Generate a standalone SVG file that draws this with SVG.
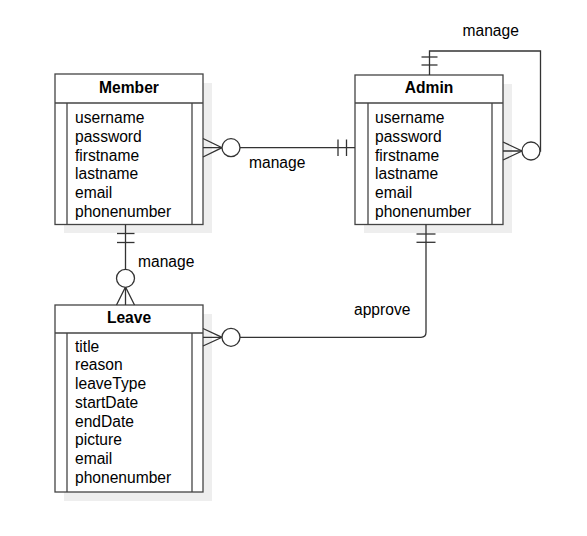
<svg xmlns="http://www.w3.org/2000/svg" width="587" height="536" viewBox="0 0 587 536">
<style>
.shadow{fill:#eeeeee;stroke:none}
.box{fill:#ffffff;stroke:#444444;stroke-width:1.3}
.ln{fill:none;stroke:#444444;stroke-width:1.3}
.edge{fill:none;stroke:#333333;stroke-width:1.3}
.circ{fill:#ffffff;stroke:#333333;stroke-width:1.3}
.hdr{font-family:"Liberation Sans",Arial,sans-serif;font-size:15.6px;font-weight:bold;fill:#000;text-anchor:middle}
.attr{font-family:"Liberation Sans",Arial,sans-serif;font-size:15.6px;fill:#000}
.lbl{font-family:"Liberation Sans",Arial,sans-serif;font-size:15.6px;fill:#000}
</style>
<rect width="587" height="536" fill="#ffffff"/>

<g id="Member">
<rect class="shadow" x="64" y="83" width="148" height="150"/>
<rect class="box" x="55" y="74" width="148" height="150.5"/>
<line class="ln" x1="55" y1="103" x2="203" y2="103"/>
<line class="ln" x1="67" y1="103" x2="67" y2="224.5"/>
<line class="ln" x1="192" y1="103" x2="192" y2="224.5"/>
<text class="hdr" x="129" y="92.5">Member</text>
<text class="attr" x="75" y="123.3">username</text>
<text class="attr" x="75" y="142">password</text>
<text class="attr" x="75" y="160.7">firstname</text>
<text class="attr" x="75" y="179.4">lastname</text>
<text class="attr" x="75" y="198.1">email</text>
<text class="attr" x="75" y="216.8">phonenumber</text>
</g>

<g id="Admin">
<rect class="shadow" x="364" y="84" width="148" height="149"/>
<rect class="box" x="355" y="75" width="148" height="149.5"/>
<line class="ln" x1="355" y1="103" x2="503" y2="103"/>
<line class="ln" x1="368" y1="103" x2="368" y2="224.5"/>
<line class="ln" x1="492" y1="103" x2="492" y2="224.5"/>
<text class="hdr" x="429" y="92.7">Admin</text>
<text class="attr" x="375" y="123.3">username</text>
<text class="attr" x="375" y="142">password</text>
<text class="attr" x="375" y="160.7">firstname</text>
<text class="attr" x="375" y="179.4">lastname</text>
<text class="attr" x="375" y="198.1">email</text>
<text class="attr" x="375" y="216.8">phonenumber</text>
</g>

<g id="Leave">
<rect class="shadow" x="64" y="314" width="148" height="187"/>
<rect class="box" x="55" y="305" width="148" height="187"/>
<line class="ln" x1="55" y1="333" x2="203" y2="333"/>
<line class="ln" x1="67" y1="333" x2="67" y2="492"/>
<line class="ln" x1="192" y1="333" x2="192" y2="492"/>
<text class="hdr" x="129" y="322.5">Leave</text>
<text class="attr" x="75" y="351.7">title</text>
<text class="attr" x="75" y="370.4">reason</text>
<text class="attr" x="75" y="389.1">leaveType</text>
<text class="attr" x="75" y="407.8">startDate</text>
<text class="attr" x="75" y="426.5">endDate</text>
<text class="attr" x="75" y="445.2">picture</text>
<text class="attr" x="75" y="463.9">email</text>
<text class="attr" x="75" y="482.6">phonenumber</text>
</g>

<g id="connectors">
<!-- Member - Admin manage -->
<g id="edge-member-admin">
<line class="edge" x1="203" y1="147.7" x2="355" y2="147.7"/>
<path class="edge" d="M203,138.5 L222,147.7 L203,157"/>
<circle class="circ" cx="231" cy="147.7" r="9"/>
<line class="edge" x1="338" y1="139.5" x2="338" y2="156"/>
<line class="edge" x1="346.5" y1="139.5" x2="346.5" y2="156"/>
<text class="lbl" x="249" y="167.5">manage</text>
</g>
<!-- Admin self manage -->
<g id="edge-admin-self">
<path class="edge" d="M429.5,75 L429.5,51 L540.5,51 L540.5,151 L503,151"/>
<path class="edge" d="M503,142 L522,151 L503,160"/>
<circle class="circ" cx="531" cy="151" r="9"/>
<line class="edge" x1="421.5" y1="57" x2="437.5" y2="57"/>
<line class="edge" x1="421.5" y1="65" x2="437.5" y2="65"/>
<text class="lbl" x="462.5" y="35.5">manage</text>
</g>
<!-- Member - Leave manage -->
<g id="edge-member-leave">
<line class="edge" x1="125.5" y1="224.5" x2="125.5" y2="305"/>
<line class="edge" x1="117" y1="233.5" x2="134.5" y2="233.5"/>
<line class="edge" x1="117" y1="242.5" x2="134.5" y2="242.5"/>
<path class="edge" d="M116.5,305 L125.5,287 L134.5,305"/>
<circle class="circ" cx="125.5" cy="278.3" r="9"/>
<text class="lbl" x="138" y="267">manage</text>
</g>
<!-- Leave - Admin approve -->
<g id="edge-leave-admin">
<path class="edge" d="M203,337.3 L421,337.3 Q426,337.3 426,332.3 L426,224.5"/>
<path class="edge" d="M203,328.5 L222,337.3 L203,346"/>
<circle class="circ" cx="231" cy="337.3" r="9"/>
<line class="edge" x1="416.5" y1="234" x2="435.5" y2="234"/>
<line class="edge" x1="416.5" y1="242.3" x2="435.5" y2="242.3"/>
<text class="lbl" x="354" y="315">approve</text>
</g>
</g>
</svg>
